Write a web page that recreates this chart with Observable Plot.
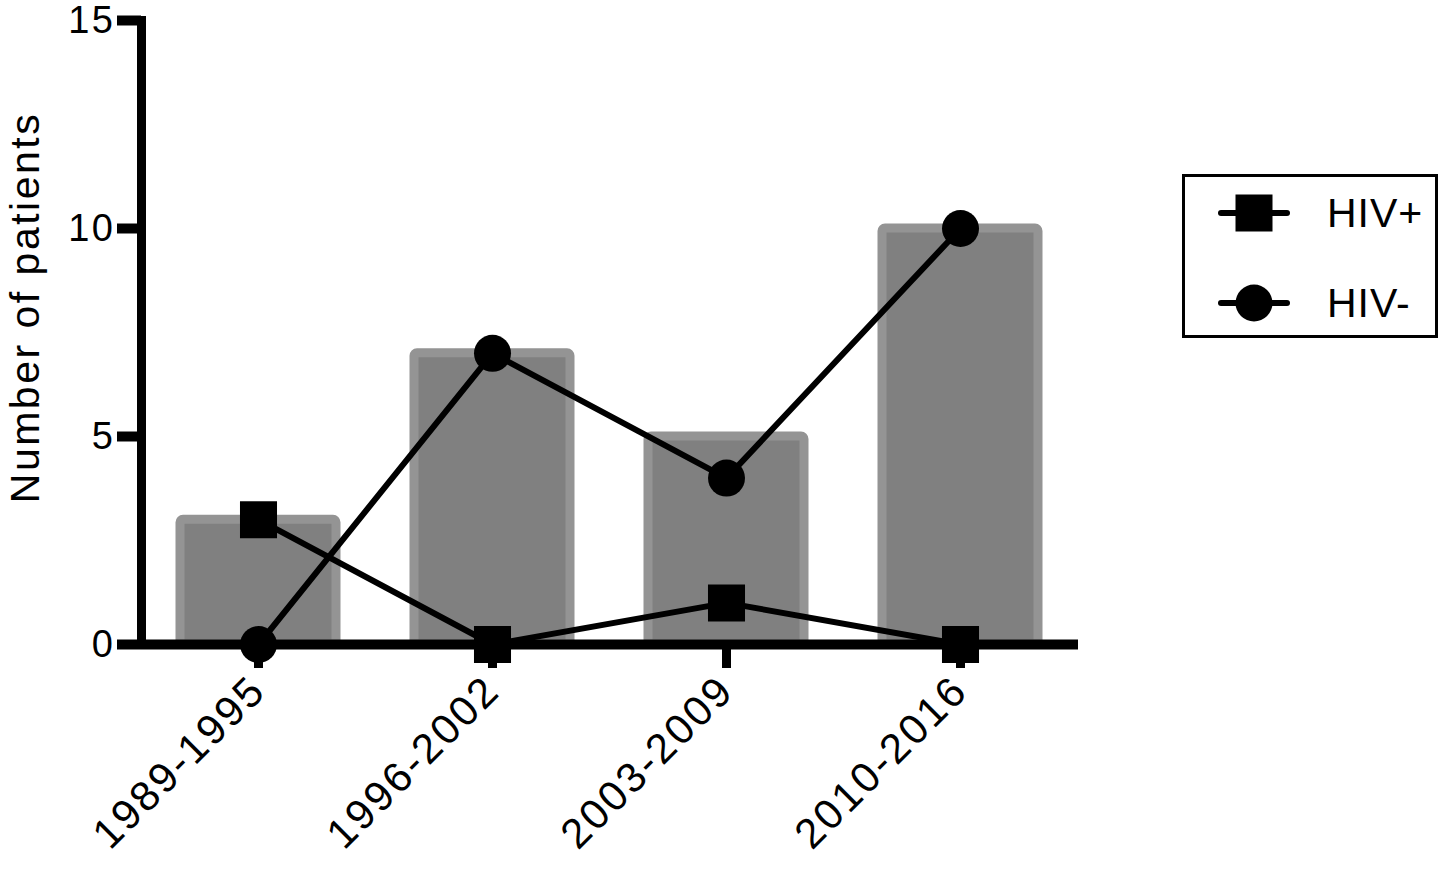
<!DOCTYPE html>
<html><head><meta charset="utf-8">
<script src="https://cdn.jsdelivr.net/npm/d3@7"></script>
<script src="https://cdn.jsdelivr.net/npm/@observablehq/plot@0.6"></script>
<style>
body{margin:0;background:#fff;font-family:"Liberation Sans",Arial,sans-serif;}
#wrap{position:relative;width:1441px;height:870px;overflow:hidden;}
#wrap svg text{letter-spacing:2.5px;}
#legend{position:absolute;left:1182px;top:174px;width:256px;height:164px;border:3px solid #000;box-sizing:border-box;background:#fff;}
#legend .sw{position:absolute;left:33px;width:72px;height:40px;}
#legend .lt{position:absolute;left:142px;font-size:41px;line-height:41px;color:#000;letter-spacing:1px;white-space:nowrap;}
</style></head><body><div id="wrap"></div>
<script>
const periods = ["1989-1995", "1996-2002", "2003-2009", "2010-2016"];
const totalPatients = [3, 7, 5, 10];
const hivPositive = [3, 0, 1, 0];
const hivNegative = [0, 7, 4, 10];
const yTicks = [0, 5, 10, 15];
const yLabel = "Number of patients";
const seriesNames = ["HIV+", "HIV-"];
const seriesSymbols = ["square", "circle"];

const data = periods.map((p, i) => ({period: p, total: totalPatients[i], pos: hivPositive[i], neg: hivNegative[i]}));

const chart = Plot.plot({
  width: 1441, height: 870,
  marginLeft: 141, marginRight: 363, marginTop: 20, marginBottom: 226,
  style: {fontFamily: '"Liberation Sans", Arial, sans-serif', background: "#fff", color: "#000", overflow: "visible"},
  x: {domain: periods, paddingInner: 0.333, paddingOuter: 0.167, axis: null},
  y: {domain: [0, 15], axis: null},
  marks: [
    Plot.barY(data, {x: "period", y: "total", fill: "#808080", stroke: "#949494", strokeWidth: 9, rx: 3}),
    Plot.frame({anchor: "left", strokeWidth: 9, strokeLinecap: "square", stroke: "#000"}),
    Plot.ruleY([0], {strokeWidth: 10, stroke: "#000"}),
    Plot.axisY({ticks: yTicks, tickSize: 24, tickPadding: 2, fontSize: 38, strokeWidth: 10, label: null}),
    Plot.axisX({tickSize: 24, tickPadding: 15, tickRotate: -45, fontSize: 42, strokeWidth: 9, label: null}),
    Plot.text([yLabel], {text: d => d, frameAnchor: "left", textAnchor: "middle", rotate: -90, dx: -116, dy: -25, fontSize: 41}),
    Plot.line(data, {x: "period", y: "pos", stroke: "#000", strokeWidth: 6}),
    Plot.line(data, {x: "period", y: "neg", stroke: "#000", strokeWidth: 6}),
    Plot.dot(data, {x: "period", y: "pos", symbol: "square", r: 20.9, fill: "#000"}),
    Plot.dot(data, {x: "period", y: "neg", symbol: "circle", r: 18.5, fill: "#000"})
  ]
});
const wrap = document.getElementById("wrap");
wrap.appendChild(chart);

// legend
const legend = document.createElement("div");
legend.id = "legend";
seriesNames.forEach((name, i) => {
  const top = 16 + i * 90;
  const sw = document.createElementNS("http://www.w3.org/2000/svg", "svg");
  sw.setAttribute("class", "sw");
  sw.setAttribute("width", 72); sw.setAttribute("height", 40);
  sw.style.top = top + "px";
  let shape = seriesSymbols[i] === "square"
    ? '<rect x="17.5" y="1.5" width="37" height="37" fill="#000"/>'
    : '<circle cx="36" cy="20" r="18.5" fill="#000"/>';
  sw.innerHTML = '<line x1="3" x2="69" y1="20" y2="20" stroke="#000" stroke-width="6" stroke-linecap="round"/>' + shape;
  legend.appendChild(sw);
  const t = document.createElement("span");
  t.className = "lt";
  t.style.top = top + "px";
  t.textContent = name;
  legend.appendChild(t);
});
wrap.appendChild(legend);
</script>
</body></html>
